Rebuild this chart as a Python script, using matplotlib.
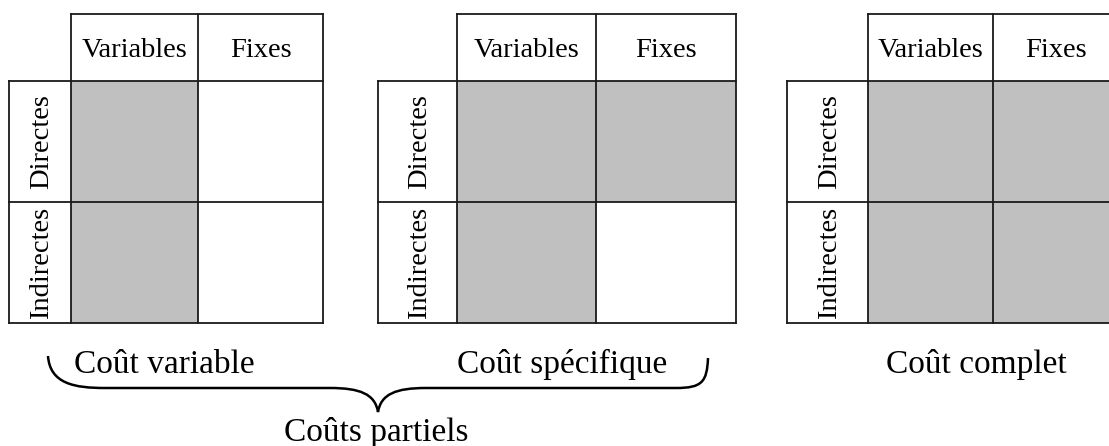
import matplotlib
matplotlib.use("Agg")
import matplotlib.pyplot as plt
from matplotlib.patches import Rectangle, PathPatch
from matplotlib.path import Path

plt.rcParams['font.family'] = ['Liberation Serif', 'DejaVu Serif']

col_labels = ["Variables", "Fixes"]
row_labels = ["Directes", "Indirectes"]
# 1 = shaded cell (rows: Directes, Indirectes / cols: Variables, Fixes)
cout_variable = [[1, 0], [1, 0]]
cout_specifique = [[1, 1], [1, 0]]
cout_complet = [[1, 1], [1, 1]]
captions = ["Coût variable", "Coût spécifique", "Coût complet"]
group_label = "Coûts partiels"

grids = [cout_variable, cout_specifique, cout_complet]

# layout in pixels
grid_left = [9, 378, 787]
head_w = [62, 79, 81]
col_w = [(127, 125), (139, 140), (125, 125)]
y_top, y_head, y_mid, y_bot = 14, 81, 202, 323
caption_x = [164, 562, 976]

grey = "#c0c0c0"
ink = "#1a1a1a"
lw = 1.3

fig = plt.figure(figsize=(11.09, 4.46), dpi=100, facecolor="white")
ax = fig.add_axes([0, 0, 1, 1])
ax.set_xlim(0, 1109)
ax.set_ylim(446, 0)
ax.axis("off")

for g, shade in enumerate(grids):
    x0 = grid_left[g]
    x1 = x0 + head_w[g]
    xs = [x1, x1 + col_w[g][0], x1 + col_w[g][0] + col_w[g][1]]
    rows_y = [y_head, y_mid, y_bot]

    # shaded cells
    for r in range(2):
        for c in range(2):
            if shade[r][c]:
                ax.add_patch(Rectangle((xs[c], rows_y[r]), xs[c + 1] - xs[c],
                                       rows_y[r + 1] - rows_y[r],
                                       facecolor=grey, edgecolor="none", zorder=1))

    # header row lines
    ax.plot([x1, xs[2]], [y_top, y_top], color=ink, lw=lw, zorder=3)
    for x in xs:
        ax.plot([x, x], [y_top, y_bot], color=ink, lw=lw, zorder=3)
    # body lines
    for y in rows_y:
        ax.plot([x0, xs[2]], [y, y], color=ink, lw=lw, zorder=3)
    ax.plot([x0, x0], [y_head, y_bot], color=ink, lw=lw, zorder=3)

    # labels
    for c in range(2):
        ax.text((xs[c] + xs[c + 1]) / 2, 57, col_labels[c], fontsize=20.5,
                ha="center", va="baseline", color="black", zorder=4)
    for r in range(2):
        ax.text((x0 + x1) / 2 + 2, (rows_y[r] + rows_y[r + 1]) / 2, row_labels[r],
                fontsize=20.5, rotation=90, ha="center", va="center",
                color="black", zorder=4)

    ax.text(caption_x[g], 373, captions[g], fontsize=24, ha="center",
            va="baseline", color="black")

# brace under the first two grids
verts = [(48, 356), (50, 384), (75, 388), (105, 388),
         (330, 388),
         (360, 388), (375, 394), (378, 412),
         (381, 394), (396, 388), (426, 388),
         (676, 388),
         (702, 388), (707, 382), (708, 358)]
codes = [Path.MOVETO, Path.CURVE4, Path.CURVE4, Path.CURVE4,
         Path.LINETO,
         Path.CURVE4, Path.CURVE4, Path.CURVE4,
         Path.CURVE4, Path.CURVE4, Path.CURVE4,
         Path.LINETO,
         Path.CURVE4, Path.CURVE4, Path.CURVE4]
ax.add_patch(PathPatch(Path(verts, codes), facecolor="none", edgecolor="black", lw=1.8))

ax.text(376, 441, group_label, fontsize=24, ha="center", va="baseline", color="black")

fig.savefig("out.png", dpi=100, facecolor="white")
